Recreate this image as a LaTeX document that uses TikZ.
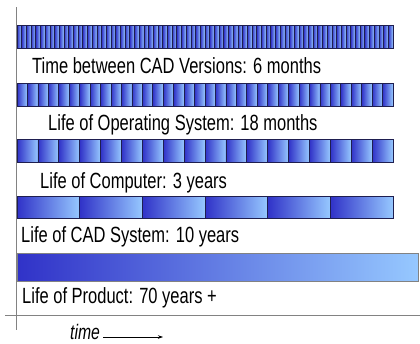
\documentclass[tikz,border=0pt]{standalone}
\usepackage{fontspec}
\setmainfont{Liberation Sans}[FakeStretch=0.75]
\usetikzlibrary{arrows.meta}
\definecolor{bardark}{RGB}{48,50,200}
\definecolor{barlight}{RGB}{150,200,255}
\definecolor{barline}{RGB}{30,30,80}
\definecolor{axisgray}{RGB}{130,130,130}
\tikzset{
  lbl/.style={anchor=base west, inner sep=0pt, font=\fontsize{22}{22}\selectfont},
  stripe/.style={left color=bardark, right color=barlight},
  frame/.style={draw=barline, line width=0.9pt},
  axis/.style={draw=axisgray, line width=0.9pt}
}
% \stripedbar{top}{bottom}{number of stripes}
\newcommand{\stripedbar}[3]{%
  \pgfmathsetmacro{\sw}{376/#3}
  \foreach \k in {1,...,#3}{
    \pgfmathsetmacro{\xa}{17+(\k-1)*\sw}
    \pgfmathsetmacro{\xb}{17+\k*\sw}
    \shade[stripe] (\xa,#1) rectangle (\xb,#2);
    \draw[barline, line width=0.7pt] (\xa,#1) -- (\xa,#2);
  }
  \draw[frame] (17,#1) rectangle (393,#2);
}
\begin{document}
\begin{tikzpicture}[x=1pt,y=-1pt]
  \useasboundingbox (0,0) rectangle (420,343);
  % axes
  \draw[axis] (16.5,7) -- (16.5,330);
  \draw[axis] (5,315) -- (420,315);
  % striped bars, one stripe per lifetime
  \stripedbar{25}{48}{80}
  \stripedbar{83}{106}{36}
  \stripedbar{139}{162}{18}
  \stripedbar{196}{218}{6}
  % product life bar
  \shade[left color=bardark, right color=barlight] (17,253) rectangle (418,281);
  \draw[draw=axisgray, line width=0.6pt] (17,253) rectangle (418,281);
  % labels
  \node[lbl] (versions) at (32,73) {Time between CAD Versions: 6 months};
  \node[lbl] (os) at (48,130) {Life of Operating System: 18 months};
  \node[lbl] (computer) at (40,188) {Life of Computer: 3 years};
  \node[lbl] (cad) at (21,242) {Life of CAD System: 10 years};
  \node[lbl] (product) at (22,303) {Life of Product: 70 years +};
  \node[lbl, font=\fontsize{21}{21}\selectfont\itshape] (time) at (70,339.5) {time};
  \coordinate (arrowend) at (163,337);
  \draw[line width=0.6pt, -{Stealth[length=5pt,width=3.5pt]}] ([xshift=3pt]time.east |- arrowend) -- (arrowend);
\end{tikzpicture}
\end{document}
